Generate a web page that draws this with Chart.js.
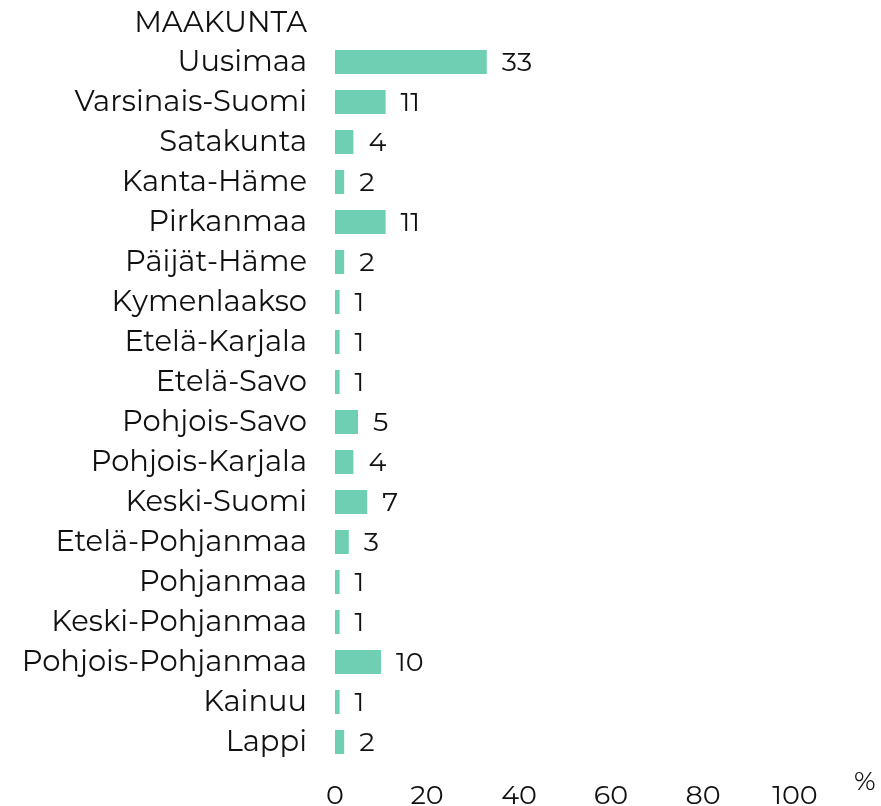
<!DOCTYPE html>
<html>
<head>
<meta charset="utf-8">
<script src="https://cdn.jsdelivr.net/npm/chart.js@4/dist/chart.umd.min.js"></script>
<style>
  html, body { margin: 0; padding: 0; background: #fff; }
  #wrap { width: 881px; height: 806px; position: relative; }
</style>
</head>
<body>
<div id="wrap"><canvas id="chart" width="881" height="806"></canvas></div>
<script>
// data
const maakunnat = ['Uusimaa', 'Varsinais-Suomi', 'Satakunta', 'Kanta-Häme', 'Pirkanmaa', 'Päijät-Häme',
    'Kymenlaakso', 'Etelä-Karjala', 'Etelä-Savo', 'Pohjois-Savo', 'Pohjois-Karjala', 'Keski-Suomi',
    'Etelä-Pohjanmaa', 'Pohjanmaa', 'Keski-Pohjanmaa', 'Pohjois-Pohjanmaa', 'Kainuu', 'Lappi'];
const osuudet = [33, 11, 4, 2, 11, 2, 1, 1, 1, 5, 4, 7, 3, 1, 1, 10, 1, 2];
const xTicks = [0, 20, 40, 60, 80, 100];

const FONT = 'Montserrat, "DejaVu Sans", sans-serif';
const TEXT = '#111';
const BAR = '#6fcfb2';

// arvot palkkien perään + otsikot
const labelsPlugin = {
    id: 'labelsPlugin',
    afterDatasetsDraw(chart) {
        const ctx = chart.ctx;
        const meta = chart.getDatasetMeta(0);
        ctx.save();
        ctx.fillStyle = TEXT;
        ctx.font = '27px ' + FONT;
        ctx.textBaseline = 'middle';
        ctx.textAlign = 'left';
        meta.data.forEach((bar, i) => {
            ctx.fillText(String(osuudet[i]), bar.x + 15, bar.y + 1);
        });
        // otsikko
        ctx.textAlign = 'right';
        ctx.font = '29px ' + FONT;
        ctx.fillText('MAAKUNTA', 307, 23);
        // yksikko
        ctx.textAlign = 'left';
        ctx.font = '26px ' + FONT;
        ctx.fillText('%', 854, 782);
        ctx.restore();
    }
};

new Chart(document.getElementById('chart').getContext('2d'), {
    type: 'bar',
    data: {
        labels: maakunnat,
        datasets: [{
            data: osuudet,
            backgroundColor: BAR,
            borderWidth: 0,
            barPercentage: 0.62,
            categoryPercentage: 0.97
        }]
    },
    options: {
        indexAxis: 'y',
        responsive: false,
        animation: false,
        layout: { padding: { top: 42, right: 86, bottom: 0, left: 0 } },
        plugins: {
            legend: { display: false },
            tooltip: { enabled: false }
        },
        scales: {
            x: {
                min: 0,
                max: 100,
                afterBuildTicks: axis => { axis.ticks = xTicks.map(v => ({ value: v })); },
                afterFit: axis => { axis.height = 44; axis.paddingLeft = 0; axis.paddingRight = 0; },
                grid: { display: false, drawTicks: false },
                border: { display: false },
                ticks: { color: TEXT, font: { family: FONT, size: 27 }, padding: 18 }
            },
            y: {
                afterFit: axis => { axis.width = 335; axis.paddingTop = 0; axis.paddingBottom = 0; },
                grid: { display: false, drawTicks: false },
                border: { display: false },
                ticks: { color: TEXT, font: { family: FONT, size: 29 }, padding: 28 }
            }
        }
    },
    plugins: [labelsPlugin]
});
</script>
</body>
</html>
